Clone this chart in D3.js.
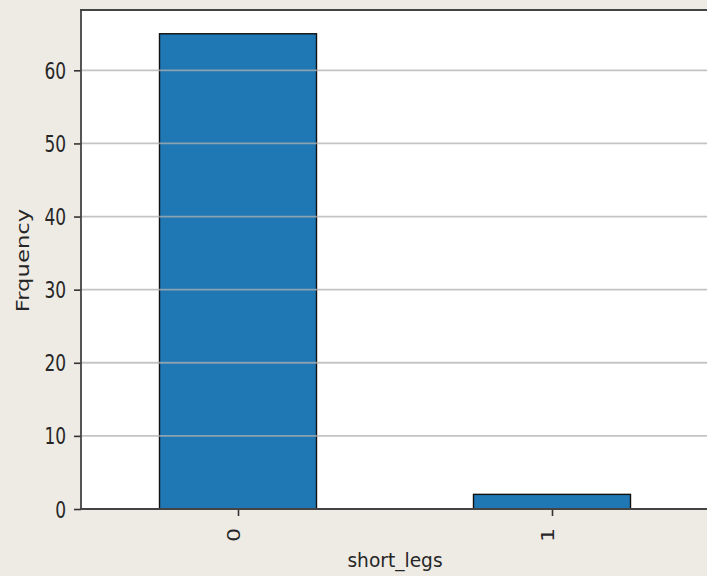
<!DOCTYPE html>
<html>
<head>
<meta charset="utf-8">
<script src="https://cdn.jsdelivr.net/npm/d3@7"></script>
<style>
  html, body { margin: 0; padding: 0; background: #eeebe5; }
  svg { display: block; }
  text { font-family: "DejaVu Sans", sans-serif; fill: #262626; }
</style>
</head>
<body>
<svg id="chart" width="707" height="576"></svg>
<script>
// Frequency of each short_legs value
const categories = ["0", "1"];
const counts = [65, 2];
const yTicks = [0, 10, 20, 30, 40, 50, 60];

const svg = d3.select("#chart");
const margin = { left: 81, right: -2, top: 10, bottom: 67 };
const W = 707, H = 576;
const x0 = margin.left, x1 = W - margin.right;
const y0 = H - margin.bottom, y1 = margin.top;
const stretch = 1.3;   // tall glyphs used for tick labels and the y title
const tickFont = 17;

// Band layout like pandas: unit spacing, bars half a unit wide
const x = d3.scaleLinear().domain([-0.5, categories.length - 0.5]).range([x0, x1]);
const y = d3.scaleLinear().domain([0, d3.max(counts) * 1.05]).range([y0, y1]);

// plot area
svg.append("rect")
  .attr("x", x0).attr("y", y1)
  .attr("width", x1 - x0).attr("height", y0 - y1)
  .attr("fill", "#ffffff");

// bars
svg.append("g").selectAll("rect")
  .data(counts)
  .join("rect")
  .attr("x", (d, i) => x(i - 0.25))
  .attr("width", (d, i) => x(i + 0.25) - x(i - 0.25))
  .attr("y", d => y(d))
  .attr("height", d => y(0) - y(d))
  .attr("fill", "#1f77b4")
  .attr("stroke", "#111")
  .attr("stroke-width", 1.4);

// horizontal grid, drawn over the bars
svg.append("g").selectAll("line")
  .data(yTicks.filter(t => t > 0))
  .join("line")
  .attr("x1", x0).attr("x2", x1)
  .attr("y1", d => y(d)).attr("y2", d => y(d))
  .attr("stroke", "#b0b0b0")
  .attr("stroke-opacity", 0.75)
  .attr("stroke-width", 1.8);

// y axis
const yAxis = svg.append("g")
  .attr("transform", `translate(${x0},0)`)
  .call(d3.axisLeft(y).tickValues(yTicks).tickSize(7).tickPadding(8));
yAxis.select(".domain").remove();
yAxis.selectAll(".tick line").attr("stroke", "#333").attr("stroke-width", 1.6);
yAxis.selectAll(".tick text")
  .style("font-size", tickFont + "px")
  .attr("fill", "#262626")
  .attr("dy", "0.365em")
  .attr("transform", `scale(1,${stretch})`);

// x axis with rotated category labels
const xAxis = svg.append("g")
  .attr("transform", `translate(0,${y0})`)
  .call(d3.axisBottom(x).tickValues(d3.range(categories.length))
    .tickFormat(i => categories[i]).tickSize(7).tickPadding(4));
xAxis.select(".domain").remove();
xAxis.selectAll(".tick line").attr("stroke", "#333").attr("stroke-width", 1.6);
xAxis.selectAll(".tick text")
  .style("font-size", tickFont + "px")
  .attr("fill", "#262626")
  .attr("transform", `rotate(-90) scale(${stretch},1)`)
  .attr("text-anchor", "end")
  .attr("x", -14.5)
  .attr("y", 1.5)
  .attr("dy", 0);

// spines
[[x0, y1, x1, y1], [x0, y1, x0, y0], [x0, y0, x1, y0]].forEach(([a, b, c, d]) => {
  svg.append("line")
    .attr("x1", a).attr("y1", b).attr("x2", c).attr("y2", d)
    .attr("stroke", "#444").attr("stroke-width", 1.8)
    .attr("stroke-linecap", "square");
});

// axis titles
svg.append("text")
  .attr("x", (x0 + x1) / 2).attr("y", 567)
  .attr("text-anchor", "middle")
  .style("font-size", "18.6px")
  .text("short_legs");

svg.append("text")
  .attr("transform", `translate(29,${(y0 + y1) / 2 + 1}) rotate(-90) scale(${stretch},1)`)
  .attr("text-anchor", "middle")
  .style("font-size", "17.5px")
  .text("Frquency");
</script>
</body>
</html>
